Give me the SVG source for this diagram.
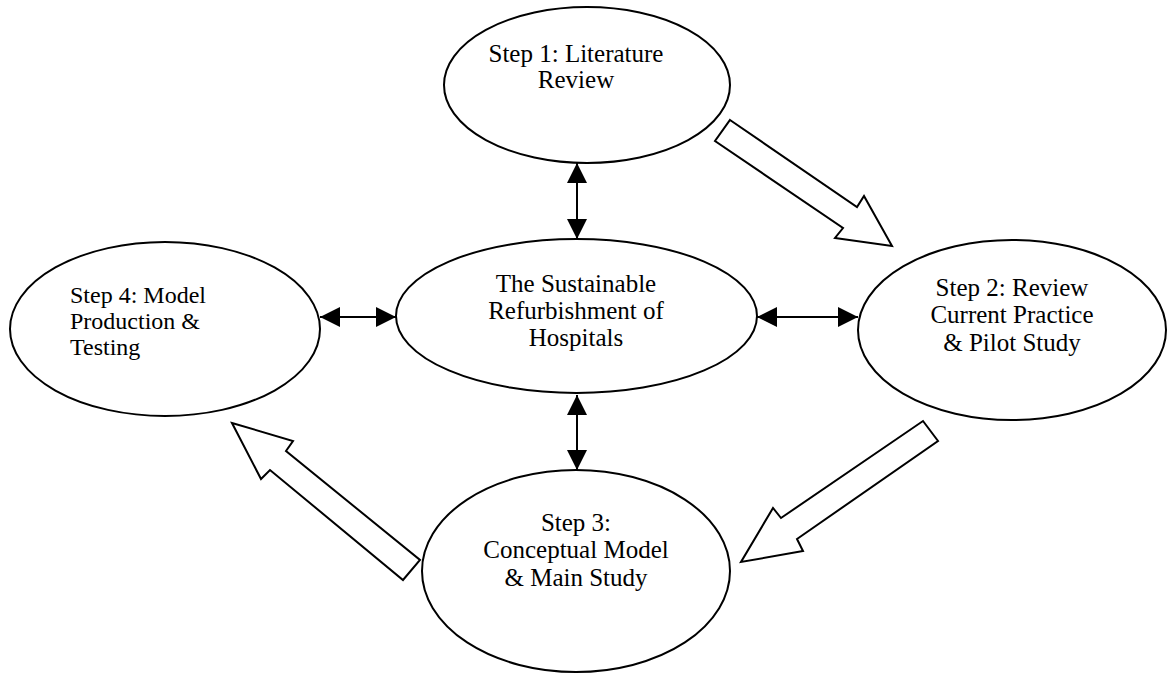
<svg xmlns="http://www.w3.org/2000/svg" width="1170" height="677" viewBox="0 0 1170 677">
  <defs>
    <style>
      .node { fill: #ffffff; stroke: #000000; stroke-width: 2; }
      .label { font-family: "Liberation Serif", "Times New Roman", serif; font-size: 25px; fill: #000000; text-anchor: middle; }
      .label-left { font-family: "Liberation Serif", "Times New Roman", serif; font-size: 24px; fill: #000000; }
      .link { stroke: #000000; stroke-width: 2; fill: none; marker-start: url(#head); marker-end: url(#head); }
      .flow { fill: #ffffff; stroke: #000000; stroke-width: 2; stroke-linejoin: miter; }
    </style>
    <marker id="head" viewBox="0 0 20 20" refX="20" refY="10" markerWidth="20" markerHeight="20" markerUnits="userSpaceOnUse" orient="auto-start-reverse">
      <path d="M0,0 L20,10 L0,20 Z" fill="#000000"/>
    </marker>
  </defs>

  <rect width="1170" height="677" fill="#ffffff"/>

  <!-- connectors: double-headed links and hollow block arrows -->
  <g id="connectors">
    <line class="link" x1="577" y1="163" x2="577" y2="239"/>
    <line class="link" x1="577" y1="395" x2="577" y2="470"/>
    <line class="link" x1="320" y1="317" x2="396" y2="317"/>
    <line class="link" x1="757" y1="317" x2="858" y2="317"/>
    <polygon class="flow" points="730,120 857,207 864,196 892,246 835,238 843,228 715,141"/>
    <polygon class="flow" points="923,421 938,441 797,539 803,551 741,562 773,508 781,518"/>
    <polygon class="flow" points="232,423 293,441 286,451 420,560 403,580 270,470 261,479"/>
  </g>

  <g id="step1">
    <ellipse class="node" cx="587" cy="85" rx="143" ry="78"/>
    <text class="label" x="576" y="62">Step 1: Literature</text>
    <text class="label" x="576" y="88">Review</text>
  </g>

  <g id="hub">
    <ellipse class="node" cx="576.5" cy="316" rx="180.5" ry="77"/>
    <text class="label" x="576" y="292">The Sustainable</text>
    <text class="label" x="576" y="319">Refurbishment of</text>
    <text class="label" x="576" y="346">Hospitals</text>
  </g>

  <g id="step2">
    <ellipse class="node" cx="1012" cy="330" rx="154" ry="90"/>
    <text class="label" x="1012" y="296">Step 2: Review</text>
    <text class="label" x="1012" y="323">Current Practice</text>
    <text class="label" x="1012" y="351">&amp; Pilot Study</text>
  </g>

  <g id="step3">
    <ellipse class="node" cx="576" cy="571" rx="154" ry="101"/>
    <text class="label" x="576" y="531">Step 3:</text>
    <text class="label" x="576" y="558">Conceptual Model</text>
    <text class="label" x="576" y="586">&amp; Main Study</text>
  </g>

  <g id="step4">
    <ellipse class="node" cx="165" cy="329" rx="155" ry="87"/>
    <text class="label-left" x="70" y="303">Step 4: Model</text>
    <text class="label-left" x="70" y="329">Production &amp;</text>
    <text class="label-left" x="70" y="355">Testing</text>
  </g>
</svg>
